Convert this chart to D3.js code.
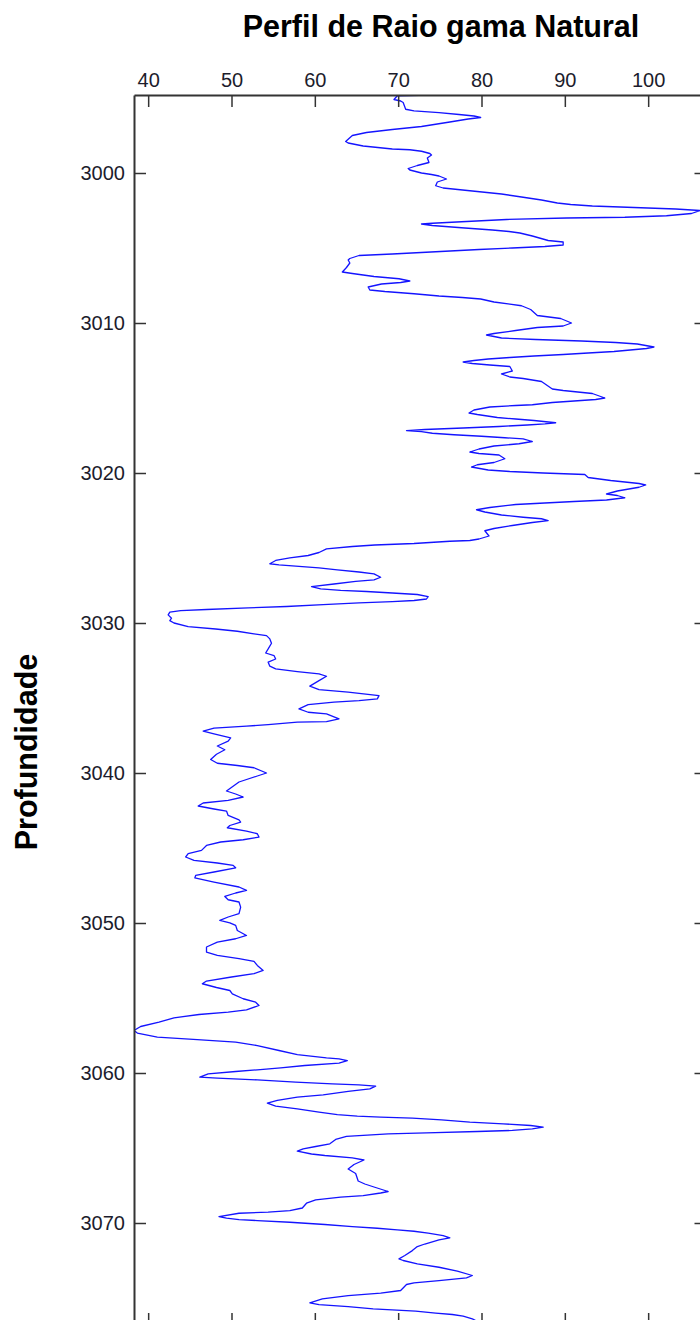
<!DOCTYPE html>
<html>
<head>
<meta charset="utf-8">
<script src="https://cdn.jsdelivr.net/npm/d3@7"></script>
<style>
  html, body { margin: 0; padding: 0; background: #fff; }
  svg { display: block; }
</style>
</head>
<body>
<svg id="chart" width="700" height="1320"></svg>
<script>
const title = "Perfil de Raio gama Natural";
const yTitle = "Profundidade";
const xTicks = [40, 50, 60, 70, 80, 90, 100];
const yTicks = [3000, 3010, 3020, 3030, 3040, 3050, 3060, 3070];
const xDomain = [38.3, 107];
const yDomain = [2994.8, 3076.8];

const depth = [
2994.8,2994.85,2995.1,2995.2,2995.3,2995.75,2995.86,2995.97,2996.1,2996.2,2996.3,2996.4,2996.6,2996.9,2997.1,2997.3,2997.5,2997.9,2998.0,2998.2,2998.4,2998.45,2998.55,2998.7,2998.8,2999.0,2999.3,2999.5,2999.7,2999.8,
3000.0,3000.1,3000.2,3000.4,3000.6,3000.85,3001.0,3001.2,3001.4,3001.6,3001.8,3002.0,3002.1,3002.2,3002.3,3002.4,3002.5,3002.7,3002.85,3002.95,3003.0,3003.1,3003.25,3003.35,3003.4,3003.5,3003.65,3003.8,3003.9,3004.0,
3004.2,3004.5,3004.6,3004.8,3004.9,3005.0,3005.1,3005.25,3005.4,3005.5,3005.7,3005.8,3006.0,3006.3,3006.6,3006.7,3006.9,3007.05,3007.2,3007.3,3007.4,3007.6,3007.8,3007.9,3008.05,3008.2,3008.3,3008.4,3008.6,3008.85,
3009.1,3009.5,3009.7,3010.0,3010.2,3010.3,3010.5,3010.7,3010.8,3011.0,3011.1,3011.2,3011.3,3011.4,3011.6,3011.7,3011.9,3012.0,3012.1,3012.2,3012.3,3012.4,3012.5,3012.6,3012.7,3012.8,3012.9,3013.2,3013.4,3013.6,
3013.7,3013.9,3014.4,3014.5,3014.7,3015.0,3015.1,3015.2,3015.3,3015.45,3015.5,3015.6,3015.8,3016.0,3016.1,3016.3,3016.4,3016.5,3016.65,3016.72,3016.8,3016.9,3017.0,3017.1,3017.17,3017.24,3017.35,3017.45,3017.55,3017.65,
3017.72,3017.9,3018.05,3018.2,3018.4,3018.6,3018.7,3018.8,3019.05,3019.3,3019.45,3019.6,3019.8,3019.9,3020.0,3020.1,3020.3,3020.5,3020.7,3020.8,3020.95,3021.2,3021.4,3021.5,3021.65,3021.8,3021.9,3022.0,3022.1,3022.3,
3022.45,3022.6,3022.8,3022.95,3023.05,3023.17,3023.3,3023.5,3023.7,3023.85,3024.2,3024.4,3024.5,3024.55,3024.7,3024.8,3024.9,3025.06,3025.3,3025.5,3025.66,3025.83,3026.05,3026.12,3026.33,3026.46,3026.6,3026.72,3026.95,3027.12,
3027.23,3027.4,3027.57,3027.73,3027.83,3027.9,3028.0,3028.1,3028.24,3028.4,3028.5,3028.57,3028.66,3028.77,3028.9,3028.99,3029.1,3029.17,3029.28,3029.46,3029.68,3029.84,3030.0,3030.24,3030.4,3030.55,3030.72,3030.84,3031.06,3031.35,
3031.73,3032.0,3032.17,3032.4,3032.61,3032.88,3033.06,3033.24,3033.39,3033.55,3033.84,3034.21,3034.44,3034.61,3034.84,3035.06,3035.17,3035.28,3035.44,3035.73,3035.95,3036.06,3036.39,3036.57,3036.61,3036.77,3036.88,3037.01,3037.21,3037.39,
3037.66,3037.88,3038.2,3038.45,3038.75,3039.1,3039.35,3039.5,3039.65,3040.0,3040.2,3040.6,3041.2,3041.4,3041.6,3041.83,3042.0,3042.2,3042.4,3042.54,3042.83,3043.12,3043.27,3043.5,3043.65,3043.87,3044.05,3044.27,3044.45,3044.6,
3044.83,3045.16,3045.38,3045.6,3045.83,3046.0,3046.16,3046.32,3046.6,3046.83,3046.99,3047.27,3047.6,3047.83,3048.0,3048.23,3048.45,3048.6,3048.94,3049.38,3049.6,3049.83,3049.99,3050.16,3050.5,3050.83,3051.05,3051.27,3051.6,3051.94,
3052.16,3052.38,3052.56,3052.83,3053.16,3053.38,3053.6,3053.87,3054.05,3054.3,3054.5,3054.72,3055.05,3055.28,3055.5,3055.79,3055.94,3056.1,3056.32,3056.61,3056.9,3057.17,3057.34,3057.61,3057.77,3057.94,3058.17,3058.5,3058.77,3058.99,
3059.06,3059.17,3059.34,3059.5,3059.66,3059.79,3059.9,3060.06,3060.28,3060.34,3060.46,3060.61,3060.72,3060.79,3060.88,3061.06,3061.23,3061.46,3061.61,3061.83,3062.01,3062.21,3062.39,3062.61,3062.77,3062.88,3062.94,3063.01,3063.12,3063.28,
3063.39,3063.5,3063.61,3063.72,3063.83,3063.9,3063.99,3064.06,3064.23,3064.43,3064.72,3064.9,3065.06,3065.21,3065.4,3065.5,3065.66,3065.8,3066.1,3066.4,3066.7,3067.2,3067.4,3067.6,3067.9,3068.0,3068.17,3068.28,3068.46,3068.68,
3069.0,3069.17,3069.28,3069.35,3069.57,3069.68,3069.77,3069.84,3069.95,3070.1,3070.24,3070.35,3070.46,3070.55,3070.68,3070.84,3070.99,3071.13,3071.4,3071.57,3071.84,3072.17,3072.39,3072.5,3072.73,3072.95,3073.21,3073.5,3073.66,3073.84,
3073.99,3074.1,3074.5,3074.68,3074.84,3075.06,3075.32,3075.44,3075.57,3075.72,3075.88,3076.01,3076.1,3076.21,3076.39,3076.5
];

const gamma = [
73.8,69.9,69.5,70.3,70.6,70.9,71.9,74.9,77.3,79.1,79.9,78.4,76.2,72.8,69.3,66.2,64.5,63.7,64.0,65.8,69.3,71.4,72.8,73.8,74.0,73.5,73.7,72.3,71.2,71.4,
72.8,74.0,74.9,75.8,74.7,74.5,75.4,78.9,82.4,84.8,87.2,89.1,90.7,93.3,98.3,103.3,106.2,105.2,102.2,97.2,90.2,83.0,77.6,74.1,72.8,74.1,77.6,81.3,83.3,84.6,
86.1,88.0,89.8,89.8,87.6,83.7,79.7,74.5,69.3,65.3,64.2,64.0,64.2,63.8,63.3,64.5,67.1,70.1,71.4,70.3,68.0,66.4,66.6,68.4,71.9,74.9,77.7,79.9,81.5,84.8,
85.9,86.7,89.5,90.8,89.8,86.7,84.1,81.5,80.6,82.4,86.5,92.0,96.1,98.7,100.7,99.8,95.9,92.8,89.8,86.3,83.4,80.8,79.1,77.8,78.9,81.0,83.4,83.7,82.4,83.4,
85.0,87.2,88.5,89.8,93.3,94.8,93.7,91.1,88.5,86.1,84.1,81.0,79.1,78.5,79.5,81.9,84.1,86.3,88.9,87.6,85.5,82.1,77.8,73.2,71.0,72.8,74.1,76.7,80.0,82.8,
85.0,86.1,84.5,81.5,79.7,78.6,79.7,82.1,82.8,81.5,79.5,78.8,80.8,83.4,87.4,92.4,92.8,95.5,98.9,99.7,98.9,96.3,95.0,96.3,97.2,95.0,91.1,87.6,84.1,81.0,
79.4,80.4,82.4,85.0,87.2,88.0,86.1,83.7,81.5,80.4,80.9,79.7,78.6,76.2,71.9,67.2,64.5,61.4,60.5,59.2,57.0,55.3,54.6,55.7,60.5,62.7,65.3,67.1,67.9,67.1,
64.9,62.3,59.6,60.7,63.1,66.2,69.3,72.3,73.6,73.4,71.9,69.3,65.3,61.0,56.6,52.0,47.0,43.9,42.6,42.4,42.8,42.6,43.1,44.8,48.1,50.7,52.7,54.2,54.6,54.8,
54.4,54.1,55.1,55.3,54.4,54.6,55.3,57.9,60.5,61.4,60.5,59.4,60.5,64.0,67.7,67.5,65.3,62.3,59.2,58.1,59.2,61.4,62.9,61.4,57.9,54.4,51.8,47.9,46.6,47.9,
49.9,49.6,48.3,49.2,48.2,47.5,48.3,50.7,52.7,54.2,53.1,50.9,49.4,50.5,51.4,49.6,46.6,46.0,47.9,49.4,49.6,50.9,51.1,49.8,49.5,51.8,53.1,53.3,51.4,48.7,
47.0,46.4,44.8,44.5,45.5,48.3,50.2,50.5,47.9,45.7,45.6,47.9,50.9,51.8,50.5,49.2,49.6,50.9,51.1,50.9,49.6,48.6,49.8,50.5,50.7,51.8,50.5,48.3,47.0,47.0,
48.3,50.9,52.7,53.1,53.8,52.7,50.0,47.0,46.5,48.2,49.8,50.1,51.4,52.9,53.3,51.8,49.6,46.1,43.1,41.3,39.1,38.3,38.7,41.1,45.9,50.5,53.1,55.7,57.9,61.4,
62.9,63.9,62.9,58.8,55.9,53.1,50.5,47.2,46.2,48.3,53.1,57.7,62.1,65.3,67.3,66.6,64.0,61.0,57.9,55.5,54.3,55.3,57.9,60.5,62.7,65.1,67.9,71.7,75.2,78.6,
82.6,85.9,87.4,86.1,83.7,79.5,73.4,68.8,63.8,62.5,61.8,60.1,58.6,57.9,59.6,61.2,64.5,65.9,64.7,64.0,64.9,65.2,66.0,67.1,68.8,67.9,65.8,63.1,60.1,59.0,
58.5,57.0,54.4,50.9,48.5,49.4,50.9,53.1,57.0,61.2,64.5,67.5,69.9,71.9,73.6,75.4,76.2,74.9,73.2,72.3,71.7,70.8,70.1,70.6,72.3,74.9,77.1,78.9,78.2,74.9,
71.9,71.0,70.3,67.9,64.0,60.9,59.4,60.5,64.0,67.0,72.1,74.5,76.5,77.8,78.9,79.3
];

const data = depth.map((d, i) => ({ depth: d, gamma: gamma[i] }));

const svg = d3.select("#chart");
const mLeft = 134, mTop = 95, mRight = 706.5, mBottom = 1325;

const x = d3.scaleLinear().domain(xDomain).range([mLeft, mRight]);
const y = d3.scaleLinear().domain(yDomain).range([mTop, mBottom]);

const tickFont = "'Liberation Sans', Arial, sans-serif";
const axisColor = "#333";

svg.append("defs").append("clipPath").attr("id", "plotClip")
  .append("rect").attr("x", mLeft).attr("y", mTop)
  .attr("width", mRight - mLeft).attr("height", mBottom - mTop);

// line
const line = d3.line().x(d => x(d.gamma)).y(d => y(d.depth));
svg.append("path")
  .datum(data)
  .attr("clip-path", "url(#plotClip)")
  .attr("fill", "none")
  .attr("stroke", "#1414ff")
  .attr("stroke-width", 1.3)
  .attr("stroke-linejoin", "round")
  .attr("d", line);

// axes
function styleAxis(g) {
  g.selectAll(".domain").attr("stroke", axisColor).attr("stroke-width", 2);
  g.selectAll(".tick line").attr("stroke", axisColor).attr("stroke-width", 1.5);
  g.selectAll(".tick text").attr("fill", "#1c1c2c")
    .style("font-family", tickFont).style("font-size", "20px");
}

svg.append("g").attr("transform", `translate(0,${mTop})`)
  .call(d3.axisTop(x).tickValues(xTicks).tickSizeInner(-12).tickSizeOuter(0).tickPadding(8))
  .call(styleAxis);

svg.append("g").attr("transform", `translate(0,${mBottom})`)
  .call(d3.axisBottom(x).tickValues(xTicks).tickSizeInner(-12).tickSizeOuter(0).tickFormat(""))
  .call(styleAxis);

svg.append("g").attr("transform", `translate(${mLeft},0)`)
  .call(d3.axisLeft(y).tickValues(yTicks).tickFormat(d3.format("d")).tickSizeInner(-12).tickSizeOuter(0).tickPadding(9))
  .call(styleAxis);

svg.append("g").attr("transform", `translate(${mRight},0)`)
  .call(d3.axisRight(y).tickValues(yTicks).tickSizeInner(-12).tickSizeOuter(0).tickFormat(""))
  .call(styleAxis);

// title
svg.append("text")
  .attr("x", 441).attr("y", 37)
  .attr("text-anchor", "middle")
  .style("font-family", "'Liberation Sans', Arial, sans-serif")
  .style("font-weight", "bold").style("font-size", "30.5px")
  .attr("fill", "#000")
  .text(title);

svg.append("text")
  .attr("transform", `translate(37,752) rotate(-90)`)
  .attr("text-anchor", "middle")
  .style("font-family", "'Liberation Sans', Arial, sans-serif")
  .style("font-weight", "bold").style("font-size", "30.5px")
  .attr("fill", "#000")
  .text(yTitle);
</script>
</body>
</html>
